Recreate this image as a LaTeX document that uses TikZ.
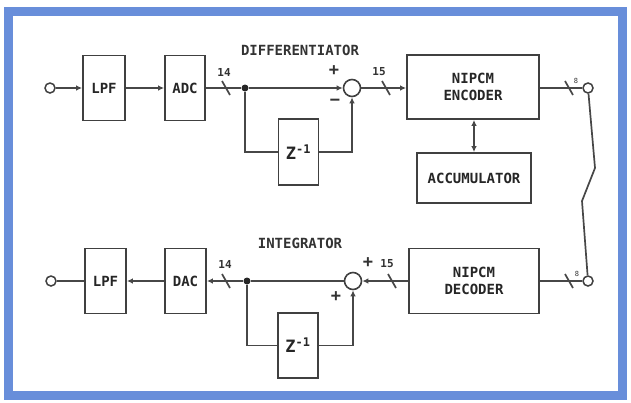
\documentclass[tikz,border=0pt]{standalone}
\usepackage{fontspec}
\newfontfamily\diafont{DejaVu Sans Mono}
\usetikzlibrary{arrows.meta, calc}
\definecolor{framebl}{RGB}{104,142,218}

\begin{document}
\begin{tikzpicture}[x=1pt, y=-1pt,
    blk/.style={rectangle, draw=black!75, line width=1.7pt, fill=white, inner sep=0pt,
                align=center, text=black!85, font=\diafont\bfseries\fontsize{14}{17}\selectfont},
    sumnode/.style={circle, draw=black!75, line width=1.6pt, minimum size=17pt, inner sep=0pt},
    port/.style={circle, draw=black!75, line width=1.5pt, minimum size=10pt, inner sep=0pt},
    junc/.style={circle, fill=black!85, minimum size=7pt, inner sep=0pt},
    lab/.style={font=\diafont\bfseries\fontsize{14}{16}\selectfont, text=black!80, inner sep=0pt},
    num/.style={font=\diafont\bfseries\fontsize{11}{12}\selectfont, text=black!80, inner sep=0pt},
    wire/.style={draw=black!72, line width=1.7pt},
    arr/.style={wire, -{Latex[length=6pt,width=5.5pt]}}
]
\useasboundingbox (0,0) rectangle (631,402);
% frame
\draw[framebl, line width=9pt] (8,11.5) rectangle (622.5,395.5);
% encoder chain (top row)
\node[port] (in1) at (50,88) {};
\node[blk, minimum width=42pt, minimum height=65pt] (lpf1) at (104,88) {LPF};
\node[blk, minimum width=40pt, minimum height=65pt] (adc) at (185,88) {ADC};
\node[junc] (j1) at (245,88) {};
\node[sumnode] (sum1) at (352,88) {};
\node[blk, minimum width=40pt, minimum height=66pt, font=\diafont\bfseries\fontsize{17}{17}\selectfont] (z1) at (298.5,152) {Z\textsuperscript{-1}};
\node[blk, minimum width=132pt, minimum height=64pt] (enc) at (473,87) {NIPCM\\ENCODER};
\node[blk, minimum width=114pt, minimum height=50pt] (acc) at (474,178) {ACCUMULATOR};
\node[port] (out1) at (588,88) {};
% decoder chain (bottom row)
\node[port] (out2) at (588,281) {};
\node[blk, minimum width=130pt, minimum height=65pt] (dec) at (474,281) {NIPCM\\DECODER};
\node[sumnode] (sum2) at (353,281) {};
\node[blk, minimum width=40pt, minimum height=65pt, font=\diafont\bfseries\fontsize{17}{17}\selectfont] (z2) at (298,345.5) {Z\textsuperscript{-1}};
\node[junc] (j2) at (247,281) {};
\node[blk, minimum width=41pt, minimum height=65pt] (dac) at (185.5,281) {DAC};
\node[blk, minimum width=41pt, minimum height=65pt] (lpf2) at (105.5,281) {LPF};
\node[port] (in2) at (51,281) {};
% titles and signs
\node[lab] (tdiff) at (300,50) {DIFFERENTIATOR};
\node[lab] (tint) at (300,243) {INTEGRATOR};
\node[lab, font=\diafont\bfseries\fontsize{17}{17}\selectfont] (p1) at (334,71) {+};
\node[lab, font=\diafont\bfseries\fontsize{17}{17}\selectfont] (m1) at (335,102) {\textminus};
\node[lab, font=\diafont\bfseries\fontsize{17}{17}\selectfont] (p2) at (368,263) {+};
\node[lab, font=\diafont\bfseries\fontsize{17}{17}\selectfont] (p3) at (336,297) {+};
% bus widths
\coordinate (s1) at (226,88);
\coordinate (s2) at (386,88);
\coordinate (s3) at (569,88);
\coordinate (s4) at (226,281);
\coordinate (s5) at (392,281);
\coordinate (s6) at (569,281);
\node[num] (n1) at (224,72) {14};
\node[num] (n2) at (379,72) {15};
\node[num, font=\diafont\fontsize{7}{8}\selectfont] (n3) at (576,81) {8};
\node[num] (n4) at (225,264) {14};
\node[num] (n5) at (387,264) {15};
\node[num, font=\diafont\fontsize{7}{8}\selectfont] (n6) at (577,274) {8};
\foreach \s in {s1,s2,s3,s4,s5,s6}
  \draw[wire] (\s) +(-4,-7) -- +(4,7);
% top connectors
\draw[arr] (in1) -- (lpf1);
\draw[arr] (lpf1) -- (adc);
\draw[wire] (adc) -- (j1);
\draw[arr] (j1) -- (sum1);
\draw[wire] (j1) |- (z1);
\draw[arr] (z1) -| (sum1);
\draw[arr] (sum1) -- (enc.west |- sum1);
\draw[wire, {Latex[length=6pt,width=5.5pt]}-{Latex[length=6pt,width=5.5pt]}] (enc.south -| acc) -- (acc);
\draw[wire] (enc.east |- out1) -- (out1);
% radio link
\coordinate (bolt1) at (595,168);
\coordinate (bolt2) at (582,201);
\draw[wire] (out1) -- (bolt1) -- (bolt2) -- (out2);
% bottom connectors
\draw[wire] (out2) -- (dec.east |- out2);
\draw[arr] (dec) -- (sum2);
\draw[wire] (sum2) -- (j2);
\draw[wire] (j2) |- (z2);
\draw[arr] (z2) -| (sum2);
\draw[arr] (j2) -- (dac);
\draw[arr] (dac) -- (lpf2);
\draw[wire] (lpf2) -- (in2);
\end{tikzpicture}
\end{document}
